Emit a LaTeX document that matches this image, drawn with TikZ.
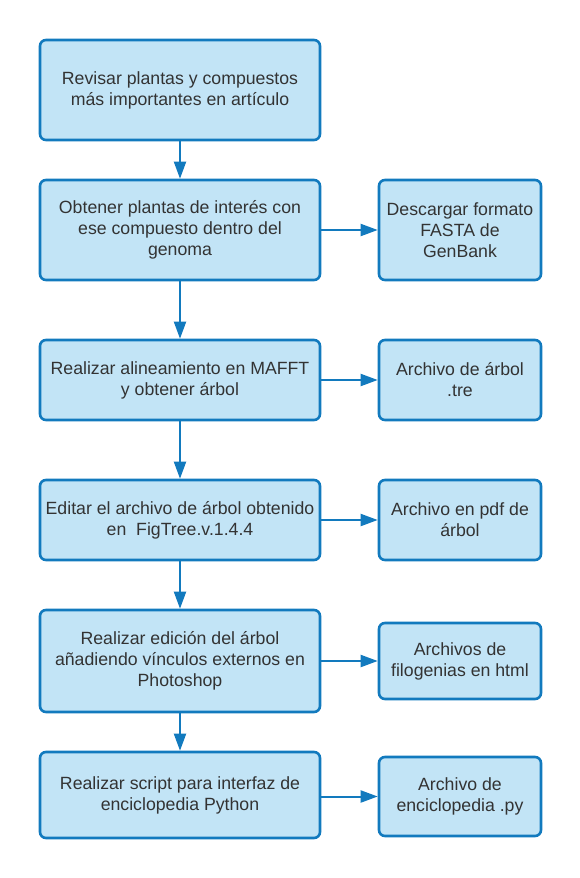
\documentclass[tikz,border=0pt]{standalone}
\usepackage{fontspec}
\setmainfont{Liberation Sans}
\usetikzlibrary{arrows.meta}
\definecolor{bordc}{RGB}{18,122,190}
\definecolor{fillc}{RGB}{194,228,246}
\definecolor{txtc}{RGB}{51,51,51}
\begin{document}
\begin{tikzpicture}[x=1pt,y=-1pt,
  box/.style={draw=bordc, fill=fillc, line width=2.6pt, rounded corners=6pt,
    align=center, text=txtc, font=\fontsize{17.7}{21}\selectfont, inner sep=0pt},
  lbox/.style={box, minimum width=280pt},
  rbox/.style={box, minimum width=162pt},
  conn/.style={draw=bordc, line width=2pt, -{Triangle[length=17pt,width=12pt]}}]
\useasboundingbox (0,0) rectangle (580,878);
\node[lbox, minimum height=100pt] (b1) at (180,90) {Revisar plantas y compuestos\\más importantes en artículo};
\node[lbox, minimum height=100pt] (b2) at (180,230) {Obtener plantas de interés con\\ese compuesto dentro del\\genoma};
\node[lbox, minimum height=80pt] (b3) at (180,380) {Realizar alineamiento en MAFFT\\y obtener árbol};
\node[lbox, minimum height=80pt] (b4) at (180,520) {Editar el archivo de árbol obtenido\\en\ \ FigTree.v.1.4.4};
\node[lbox, minimum height=102pt] (b5) at (180,661) {Realizar edición del árbol\\añadiendo vínculos externos en\\Photoshop};
\node[lbox, minimum height=86pt] (b6) at (180,795) {Realizar script para interfaz de\\enciclopedia Python};
\node[rbox, minimum height=100pt] (r1) at (460,230) {Descargar formato\\FASTA de\\GenBank};
\node[rbox, minimum height=80pt] (r2) at (460,380) {Archivo de árbol\\.tre};
\node[rbox, minimum height=80pt] (r3) at (460,520) {Archivo en pdf de\\árbol};
\node[rbox, minimum height=76pt] (r4) at (460,661) {Archivos de\\filogenias en html};
\node[rbox, minimum height=79pt] (r5) at (460,796.5) {Archivo de\\enciclopedia .py};
\draw[conn] (b1) -- (b2);
\draw[conn] (b2) -- (b3);
\draw[conn] (b3) -- (b4);
\draw[conn] (b4) -- (b5);
\draw[conn] (b5) -- (b6);
\draw[conn] (b2) -- (r1);
\draw[conn] (b3) -- (r2);
\draw[conn] (b4) -- (r3);
\draw[conn] (b5) -- (r4);
\draw[conn] (b6.east |- r5) -- (r5);
\end{tikzpicture}
\end{document}
